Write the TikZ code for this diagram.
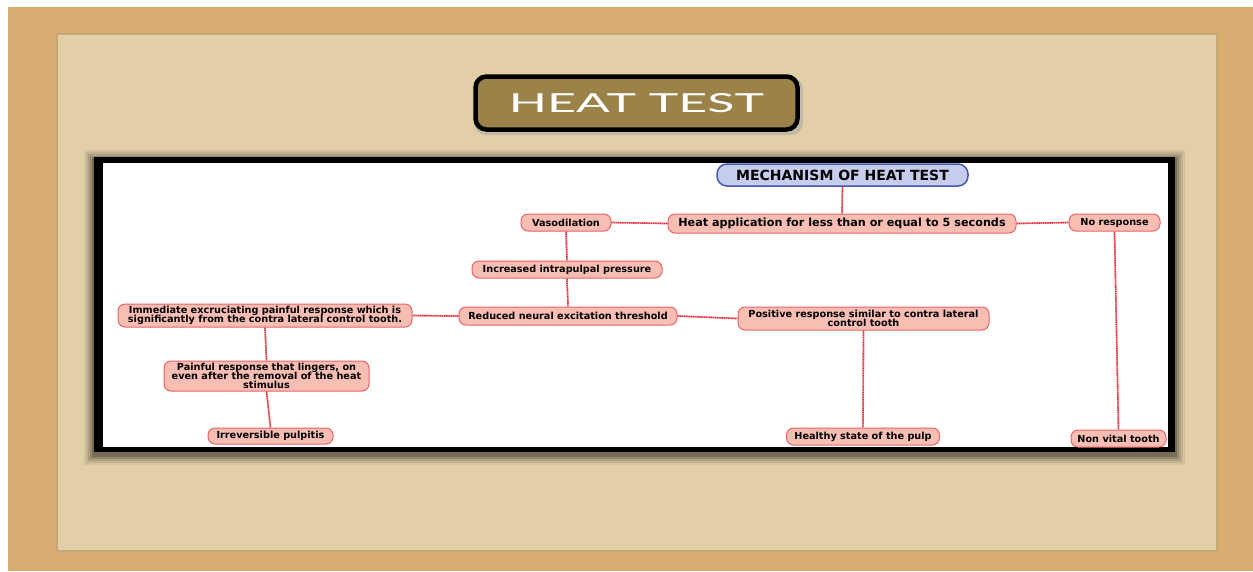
\documentclass[tikz,border=0pt]{standalone}
\usepackage{fontspec}
\setmainfont{DejaVu Sans}
\newfontfamily\titlefont{Lato}
\usetikzlibrary{shapes.misc}
\definecolor{cardboard}{RGB}{214,172,112}
\definecolor{paper}{RGB}{226,207,168}
\definecolor{paperedge}{RGB}{185,150,100}
\definecolor{olive}{RGB}{154,130,72}
\definecolor{pinkfill}{RGB}{248,190,180}
\definecolor{pinkline}{RGB}{232,100,105}
\definecolor{linkred}{RGB}{225,45,60}
\definecolor{linklight}{RGB}{245,150,155}
\definecolor{bluefill}{RGB}{198,205,236}
\definecolor{blueline}{RGB}{68,88,176}
\tikzset{
  x=1pt, y=-1pt,
  box/.style={draw=pinkline, fill=pinkfill, line width=1pt, rounded corners=7pt,
    inner sep=1pt, align=center, font=\bfseries\fontsize{9.7}{11}\selectfont},
  link/.style={draw=linkred, line width=1.4pt, dash pattern=on 1.3pt off 0.9pt,
    preaction={draw=linklight, line width=1.8pt, solid}},
}
\begin{document}
\begin{tikzpicture}
\useasboundingbox (0,0) rectangle (1253,571);
% backdrop
\fill[white] (0,0) rectangle (1253,571);
\fill[cardboard] (8,7) rectangle (1253,571);
% paper
\fill[paperedge!70!paper] (56,33) rectangle (1218,552);
\fill[paper] (58,35) rectangle (1216,550);
% title
\fill[black!35, opacity=0.5, rounded corners=12pt] (474,77) rectangle (803,135);
\node[draw=black, line width=4.5pt, fill=olive, rounded corners=11pt,
      minimum width=322pt, minimum height=53pt, inner sep=0pt] (title) at (636.5,103)
      {\color{white}\resizebox{255pt}{19pt}{\titlefont HEAT TEST}};
% frame shadow
\foreach \s/\o in {10/0.06,8/0.08,6/0.1,4/0.14,2/0.2}
  \fill[black, opacity=\o] (94-\s,157-\s+3) rectangle (1175+\s,452+\s+3);
\fill[black] (94,157) rectangle (1175,452);
\fill[white] (103,163) rectangle (1168,447);
% nodes
\node[box, draw=blueline, fill=bluefill, line width=1.5pt, rounded corners=10pt,
      minimum width=251pt, minimum height=22pt, font=\bfseries\fontsize{14}{15}\selectfont]
      (mech) at (842.5,175) {MECHANISM OF HEAT TEST};
\node[box, minimum width=348pt, minimum height=19pt, font=\bfseries\fontsize{11.2}{12}\selectfont]
      (heat) at (842,223.5) {Heat application for less than or equal to 5 seconds};
\node[box, minimum width=90pt, minimum height=17pt] (vaso) at (566,222.5) {Vasodilation};
\node[box, minimum width=91pt, minimum height=17pt] (nores) at (1114.5,222.5) {No response};
\node[box, minimum width=190pt, minimum height=17pt] (incr) at (567,269.5) {Increased intrapulpal pressure};
\node[box, minimum width=218pt, minimum height=18pt] (redu) at (568,316) {Reduced neural excitation threshold};
\node[box, minimum width=294pt, minimum height=23pt] (imm) at (265,315.5)
      {Immediate excruciating painful response which is\\[-1.8pt] significantly from the contra lateral control tooth.};
\node[box, minimum width=251pt, minimum height=23pt] (pos) at (863.5,318.5)
      {Positive response similar to contra lateral\\[-1.8pt] control tooth};
\node[box, minimum width=205pt, minimum height=30pt] (pain) at (266.5,376)
      {Painful response that lingers, on\\[-1.8pt] even after the removal of the heat\\[-1.8pt] stimulus};
\node[box, minimum width=125pt, minimum height=16pt] (irr) at (270.5,436) {Irreversible pulpitis};
\node[box, minimum width=153pt, minimum height=17pt] (heal) at (863,436.5) {Healthy state of the pulp};
\node[box, minimum width=95pt, minimum height=17pt] (nonv) at (1118.5,438.5) {Non vital tooth};
% connectors
\draw[link] (mech.south) -- (heat.north);
\draw[link] (heat.west) -- (vaso.east);
\draw[link] (heat.east) -- (nores.west);
\draw[link] (vaso.south) -- (incr.north);
\draw[link] (incr.south) -- (redu.north);
\draw[link] (redu.west) -- (imm.east);
\draw[link] (redu.east) -- (pos.west);
\draw[link] (imm.south) -- (pain.north);
\draw[link] (pain.south) -- (irr.north);
\draw[link] (pos.south) -- (heal.north);
\draw[link] (nores.south) -- (nonv.north);
\end{tikzpicture}
\end{document}
